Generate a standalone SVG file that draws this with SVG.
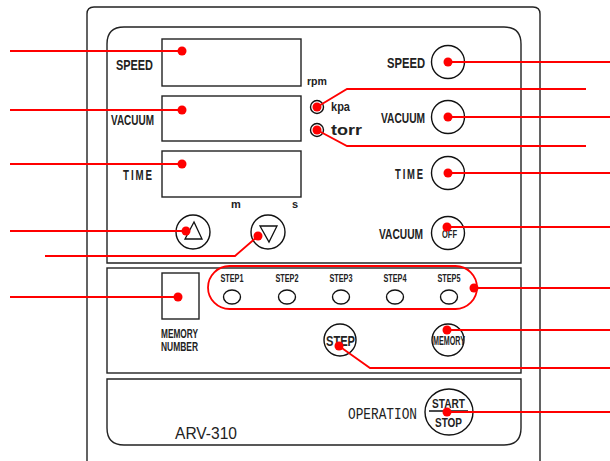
<svg xmlns="http://www.w3.org/2000/svg" width="610" height="461" viewBox="0 0 610 461">
<style>
.frame{fill:none;stroke:#222;stroke-width:1.4}
.box{fill:#fff;stroke:#222;stroke-width:1.4}
.btn{fill:#fff;stroke:#111;stroke-width:1.4}
.lbl{font-family:"Liberation Sans",Arial,sans-serif;font-weight:bold;fill:#222}
.mono{font-family:"Liberation Mono","DejaVu Sans Mono",monospace;fill:#222}
.red{fill:none;stroke:#f00;stroke-width:1.8}
.dot{fill:#f00}
</style>
<rect width="610" height="461" fill="#fff"/>
<!-- outer casing -->
<path class="frame" d="M87,470 V14 Q87,7 94,7 H533 Q540,7 540,14 V470"/>
<!-- panels -->
<path class="frame" d="M107,263 V44 Q107,27 124,27 H504 Q521,27 521,44 V263 Z"/>
<rect class="frame" x="107" y="268" width="414" height="105"/>
<path class="frame" d="M107,379 H521 V428 Q521,445 504,445 H124 Q107,445 107,428 Z"/>

<g id="speed-display">
<rect class="box" x="162" y="39" width="139" height="47"/>
<text class="lbl" x="116" y="69.5" font-size="15" textLength="37" lengthAdjust="spacingAndGlyphs">SPEED</text>
</g>
<g id="vacuum-display">
<rect class="box" x="162" y="96" width="139" height="45"/>
<text class="lbl" x="111" y="124.5" font-size="15" textLength="43" lengthAdjust="spacingAndGlyphs">VACUUM</text>
<text class="lbl" x="307" y="85" font-size="11" textLength="20" lengthAdjust="spacingAndGlyphs">rpm</text>
</g>
<g id="time-display">
<rect class="box" x="162" y="151" width="139" height="46"/>
<text class="lbl" x="123" y="180" font-size="15" textLength="31" lengthAdjust="spacingAndGlyphs" letter-spacing="3">TIME</text>
<text class="lbl" x="231" y="208" font-size="11">m</text>
<text class="lbl" x="292" y="208" font-size="11">s</text>
</g>
<g id="kpa-led">
<circle class="btn" cx="317" cy="107" r="6.5"/>
<text class="lbl" x="331" y="111" font-size="12" textLength="19" lengthAdjust="spacingAndGlyphs">kpa</text>
</g>
<g id="torr-led">
<circle class="btn" cx="317" cy="130" r="6.5"/>
<text class="lbl" x="331" y="135" font-size="15" textLength="31" lengthAdjust="spacingAndGlyphs">torr</text>
</g>
<g id="speed-btn">
<circle class="btn" cx="448" cy="62" r="16.5"/>
<text class="lbl" x="387" y="68" font-size="15" textLength="38" lengthAdjust="spacingAndGlyphs">SPEED</text>
</g>
<g id="vacuum-btn">
<circle class="btn" cx="448" cy="117" r="16.5"/>
<text class="lbl" x="381" y="123" font-size="15" textLength="44" lengthAdjust="spacingAndGlyphs">VACUUM</text>
</g>
<g id="time-btn">
<circle class="btn" cx="448" cy="173" r="16.5"/>
<text class="lbl" x="395" y="179" font-size="15" textLength="30" lengthAdjust="spacingAndGlyphs" letter-spacing="3">TIME</text>
</g>
<g id="vacuum-off-btn">
<circle class="btn" cx="448" cy="233" r="16.5"/>
<text class="lbl" x="442" y="238" font-size="10" textLength="15" lengthAdjust="spacingAndGlyphs">OFF</text>
<text class="lbl" x="379" y="239" font-size="14" textLength="44" lengthAdjust="spacingAndGlyphs">VACUUM</text>
</g>
<g id="up-btn">
<circle class="btn" cx="193" cy="232" r="17"/>
<polygon points="194,222 185,239 202,239" fill="none" stroke="#111" stroke-width="1.3"/>
</g>
<g id="down-btn">
<circle class="btn" cx="268" cy="232" r="17"/>
<polygon points="260,226 277,226 269,242" fill="none" stroke="#111" stroke-width="1.3"/>
</g>
<g id="memory-number">
<rect class="box" x="162" y="273" width="37" height="46"/>
<text class="lbl" x="161" y="338" font-size="12" textLength="37" lengthAdjust="spacingAndGlyphs">MEMORY</text>
<text class="lbl" x="161" y="351" font-size="12" textLength="37" lengthAdjust="spacingAndGlyphs">NUMBER</text>
</g>
<g id="steps">
<text class="lbl" x="232" y="282" font-size="11" text-anchor="middle" textLength="23" lengthAdjust="spacingAndGlyphs">STEP1</text>
<text class="lbl" x="287" y="282" font-size="11" text-anchor="middle" textLength="23" lengthAdjust="spacingAndGlyphs">STEP2</text>
<text class="lbl" x="341" y="282" font-size="11" text-anchor="middle" textLength="23" lengthAdjust="spacingAndGlyphs">STEP3</text>
<text class="lbl" x="395" y="282" font-size="11" text-anchor="middle" textLength="23" lengthAdjust="spacingAndGlyphs">STEP4</text>
<text class="lbl" x="449" y="282" font-size="11" text-anchor="middle" textLength="23" lengthAdjust="spacingAndGlyphs">STEP5</text>
<ellipse class="btn" cx="232" cy="297" rx="8.5" ry="7"/>
<ellipse class="btn" cx="287" cy="297" rx="8.5" ry="7"/>
<ellipse class="btn" cx="341" cy="297" rx="8.5" ry="7"/>
<ellipse class="btn" cx="395" cy="297" rx="8.5" ry="7"/>
<ellipse class="btn" cx="449" cy="297" rx="8.5" ry="7"/>
</g>
<g id="step-btn">
<circle class="btn" cx="340" cy="340" r="16"/>
<text class="lbl" x="326" y="346" font-size="14" textLength="29" lengthAdjust="spacingAndGlyphs">STEP</text>
</g>
<g id="memory-btn">
<circle class="btn" cx="448" cy="340" r="16"/>
<text class="lbl" x="433" y="345" font-size="12" textLength="32" lengthAdjust="spacingAndGlyphs">MEMORY</text>
</g>
<g id="start-stop-btn">
<ellipse class="btn" cx="449" cy="412" rx="24" ry="23"/>
<line x1="429" y1="411" x2="468" y2="411" stroke="#111" stroke-width="1.3"/>
<text class="lbl" x="432" y="408" font-size="13" textLength="33" lengthAdjust="spacingAndGlyphs">START</text>
<text class="lbl" x="435" y="427" font-size="13" textLength="27" lengthAdjust="spacingAndGlyphs">STOP</text>
<text class="mono" x="348" y="419" font-size="16" textLength="69" lengthAdjust="spacingAndGlyphs">OPERATION</text>
</g>
<g id="model">
<text x="175" y="439" font-family="'Liberation Sans',Arial,sans-serif" fill="#222" font-size="17" textLength="62" lengthAdjust="spacingAndGlyphs">ARV-310</text>
</g>

<g id="connectors">
<rect class="red" x="208" y="266" width="269" height="43" rx="21.5"/>
<polyline class="red" points="10,51 182,51"/>
<polyline class="red" points="10,110 182,110"/>
<polyline class="red" points="10,164 182,164"/>
<polyline class="red" points="10,231 186,231"/>
<polyline class="red" points="45,256 235,256 258,236"/>
<polyline class="red" points="10,297 178,297"/>
<polyline class="red" points="448,62 610,62"/>
<polyline class="red" points="448,117 610,117"/>
<polyline class="red" points="448,173 610,173"/>
<polyline class="red" points="447,227 610,227"/>
<polyline class="red" points="317,107 347,89 586,89"/>
<polyline class="red" points="317,130 347,146 586,146"/>
<polyline class="red" points="474,288 610,288"/>
<polyline class="red" points="447,330 610,330"/>
<polyline class="red" points="339,346 370,368 610,368"/>
<polyline class="red" points="447,412 610,412"/>
<g class="dot">
<circle cx="182" cy="51" r="4.5"/>
<circle cx="182" cy="110" r="4.5"/>
<circle cx="182" cy="164" r="4.5"/>
<circle cx="186" cy="231" r="4.5"/>
<circle cx="258" cy="236" r="4.5"/>
<circle cx="178" cy="297" r="4.5"/>
<circle cx="448" cy="62" r="4.5"/>
<circle cx="448" cy="117" r="4.5"/>
<circle cx="448" cy="173" r="4.5"/>
<circle cx="447" cy="227" r="4.5"/>
<circle cx="317" cy="107" r="4.5"/>
<circle cx="317" cy="130" r="4.5"/>
<circle cx="474" cy="288" r="4.5"/>
<circle cx="447" cy="330" r="4.5"/>
<circle cx="339" cy="346" r="4.5"/>
<circle cx="447" cy="412" r="4.5"/>
</g>
</g>
</svg>
